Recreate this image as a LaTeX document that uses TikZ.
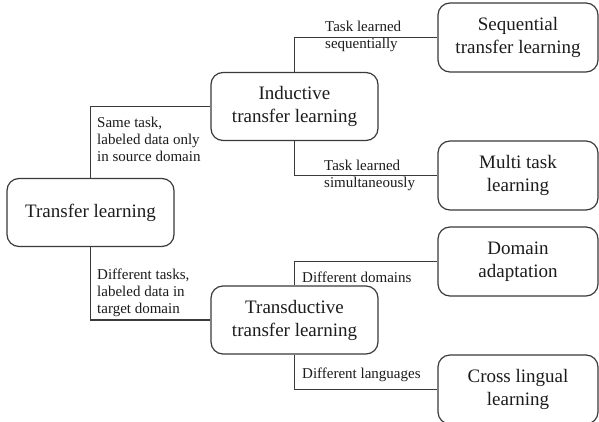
\documentclass[tikz,border=0pt]{standalone}
\usepackage{fontspec}
\setmainfont{Liberation Serif}
\definecolor{linegray}{HTML}{3A3A3A}
\definecolor{textgray}{HTML}{1C1C1C}
\begin{document}
\begin{tikzpicture}[x=1pt,y=-1pt,
  box/.style={draw=linegray, line width=1.2pt, rounded corners=12pt,
    minimum width=167pt, minimum height=68pt, align=center, inner sep=0pt,
    font=\fontsize{19}{23}\selectfont, text=textgray},
  leaf/.style={box, minimum width=160pt, minimum height=69pt},
  lbl/.style={align=left, inner sep=0pt, anchor=west,
    font=\fontsize{15}{17}\selectfont, text=textgray},
  link/.style={draw=linegray, line width=1.2pt}]

% canvas
\clip (0,0) rectangle (599,422);
\fill[white] (0,0) rectangle (599,422);

% root, the two middle categories and the four leaves
\node[box] (tl)  at (90.5,212.5) {Transfer learning};
\node[box] (ind) at (294.5,106.5) {Inductive\\transfer learning};
\node[box] (trd) at (294.5,320) {Transductive\\transfer learning};
\node[leaf] (seq) at (518,37.5)  {Sequential\\transfer learning};
\node[leaf] (mt)  at (518,175.5) {Multi task\\learning};
\node[leaf] (da)  at (518,261.5) {Domain\\adaptation};
\node[leaf] (cl)  at (518,389.5) {Cross lingual\\learning};

% elbow connectors
\draw[link] (tl.north)  |- (ind.west);
\draw[link] (tl.south)  |- (trd.west);
\draw[link] (ind.north) |- (seq.west);
\draw[link] (ind.south) |- (mt.west);
\draw[link] (trd.north) |- (da.west);
\draw[link] (trd.south) |- (cl.west);

% connector labels
\node[lbl] (l1) at (97,139.5) {Same task,\\labeled data only\\in source domain};
\node[lbl] (l2) at (97,293) {Different tasks,\\labeled data in\\target domain};
\node[lbl] (l3) at (325,36.5) {Task learned\\sequentially};
\node[lbl] (l4) at (324,175) {Task learned\\simultaneously};
\node[lbl] (l5) at (302,277) {Different domains};
\node[lbl] (l6) at (302,375) {Different languages};
\end{tikzpicture}
\end{document}
